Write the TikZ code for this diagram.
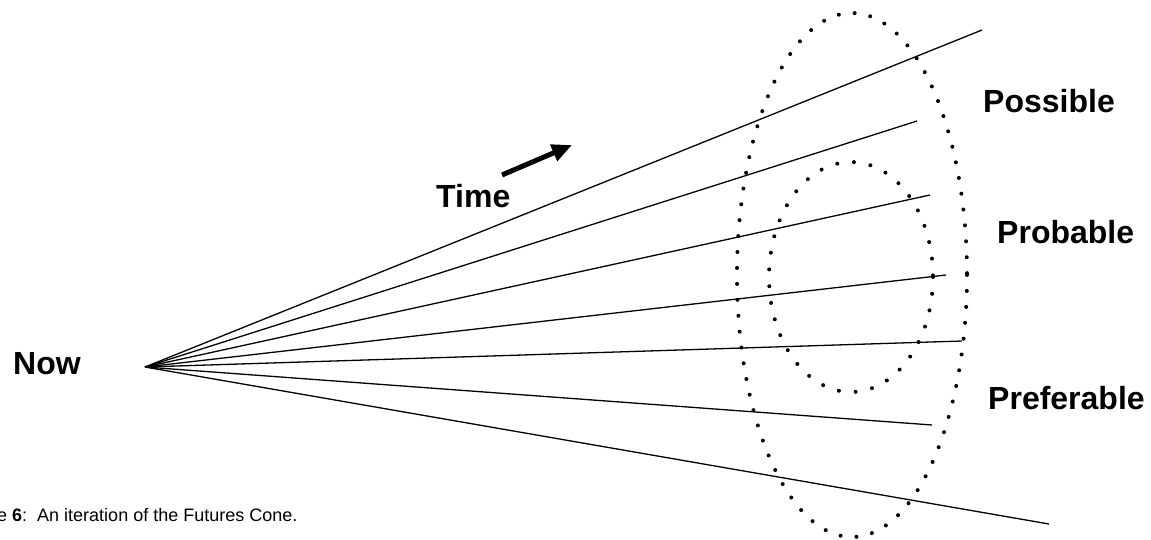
\documentclass[tikz,border=0pt]{standalone}
\usepackage{fontspec}
\setmainfont{Liberation Sans}
\usetikzlibrary{arrows.meta}
\begin{document}
\begin{tikzpicture}[x=1pt,y=-1pt,
  ray/.style={line width=1.3pt,black},
  dotring/.style={line width=4pt,line cap=round,dash pattern=on 0pt off #1},
  biglabel/.style={anchor=base west,inner sep=0pt,font=\fontsize{32}{38}\selectfont\bfseries},
  caption/.style={anchor=base west,inner sep=0pt,font=\fontsize{18}{22}\selectfont}]
\useasboundingbox (0,0) rectangle (1151,539);
% apex and ray ends
\coordinate (apex) at (145,367);
\coordinate (e1) at (982,30);
\coordinate (e2) at (917,121);
\coordinate (e3) at (930,195);
\coordinate (e4) at (946,275);
\coordinate (e5) at (962,341);
\coordinate (e6) at (932,425);
\coordinate (e7) at (1049,524);
\foreach \e in {e1,e2,e3,e4,e5,e6,e7} \draw[ray] (apex) -- (\e);
% dotted ellipses
\draw[dotring=15.95pt] (852,275) ellipse [x radius=115, y radius=262];
\draw[dotring=16.8pt] (851,277) ellipse [x radius=82, y radius=115];
% time arrow
\coordinate (ta) at (502,175);
\coordinate (tb) at (572,145);
\draw[line width=5pt,-{Triangle[length=20pt,width=17pt]}] (ta) -- (tb);
% labels
\node[biglabel] (now) at (13,374) {Now};
\node[biglabel] (time) at (436,207) {Time};
\node[biglabel] (poss) at (983,112) {Possible};
\node[biglabel] (prob) at (997,243) {Probable};
\node[biglabel] (pref) at (988,409) {Preferable};
\node[caption] (cap) at (-3,521) {e \textbf{6}:\ \ An iteration of the Futures Cone.};
\end{tikzpicture}
\end{document}
